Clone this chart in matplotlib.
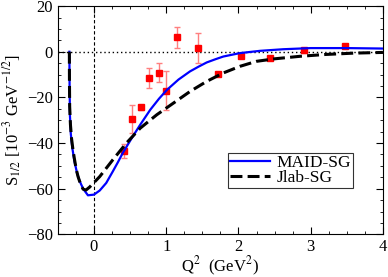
import matplotlib
matplotlib.use("Agg")
import matplotlib.pyplot as plt
from matplotlib.ticker import MultipleLocator

plt.rcParams['font.family'] = ['Liberation Serif', 'DejaVu Serif']
plt.rcParams['mathtext.fontset'] = 'stix'

# MAID-SG curve
maid_q2 = [-0.34, -0.337, -0.332, -0.32, -0.30, -0.27, -0.235, -0.20, -0.15, -0.083,
           0.0, 0.08, 0.17, 0.26, 0.33, 0.40, 0.52, 0.64, 0.78, 0.90, 1.01, 1.17,
           1.33, 1.45, 1.56, 1.68, 1.79, 2.02, 2.30, 2.62, 3.0, 3.5, 4.0]
maid_s = [0, -15, -28, -36, -42, -48, -53, -56.5, -60, -62.9,
          -62.6, -60.8, -57.5, -52.5, -48.5, -44.3, -38, -32, -25.4, -20.6, -16.7, -12.2,
          -8.6, -6.5, -4.7, -3.3, -2.1, -0.6, 0.4, 1.1, 1.6, 1.6, 1.4]

# Jlab-SG curve
jlab_q2 = [-0.34, -0.339, -0.336, -0.325, -0.31, -0.29, -0.27, -0.245, -0.22, -0.185,
           -0.15, -0.11, -0.06, 0.08, 0.26, 0.45, 0.64, 0.87, 1.10, 1.33, 1.56, 1.79,
           2.02, 2.25, 2.5, 2.85, 3.2, 3.6, 4.0]
jlab_s = [0, -12, -24, -32, -38, -43, -47, -51.5, -54.7, -58,
          -60.2, -60.6, -59.3, -54.7, -47.4, -40, -33.5, -27.6, -22.5, -17.4, -13, -9.3,
          -6.4, -4.2, -3.1, -2.0, -1.2, -0.6, -0.3]

# data points
data_q2 = [0.41, 0.525, 0.654, 0.756, 0.904, 1.0, 1.148, 1.447, 1.72, 2.04, 2.44, 2.91, 3.48]
data_s = [-43.4, -29.5, -24.4, -11.5, -9.1, -17.0, 6.4, 1.6, -9.8, -1.8, -2.8, 0.6, 2.6]
data_err = [3.0, 6.1, 1.0, 4.4, 4.0, 8.4, 4.6, 6.6, 1.0, 1.0, 1.0, 1.0, 1.0]

fig = plt.figure(figsize=(3.88, 2.77), dpi=100)
ax = fig.add_axes([0.149, 0.154, 0.838, 0.824])

ax.axhline(0, color='black', ls=(0, (1, 2)), lw=1.0)
ax.axvline(0, color='black', ls=(0, (3, 2)), lw=0.8)

ax.errorbar(data_q2, data_s, yerr=data_err, fmt='none', ecolor='#ff7f7f',
            elinewidth=1.0, capsize=2.5, capthick=1.0, zorder=3)
ax.plot(data_q2, data_s, 's', color='red', ms=4.5, zorder=4)

ax.plot(maid_q2, maid_s, '-', color='#0000ff', lw=1.6, label='MAID-SG', zorder=5)
ax.plot(jlab_q2, jlab_s, color='black', lw=2.2, dashes=(3.9, 1.7), label='Jlab-SG', zorder=6)

ax.set_xlim(-0.5, 4)
ax.set_ylim(-80, 20)
ax.xaxis.set_major_locator(MultipleLocator(1))
ax.xaxis.set_minor_locator(MultipleLocator(0.25))
ax.yaxis.set_major_locator(MultipleLocator(20))
ax.yaxis.set_minor_locator(MultipleLocator(5))
ax.tick_params(which='both', direction='in', top=True, right=True, labelsize=12)
ax.tick_params(which='major', length=5)
ax.tick_params(which='minor', length=2.5)

ax.set_xlabel(r'Q$^2$  (GeV$^2$)', fontsize=12, labelpad=0)
ax.set_ylabel(r'S$_{1/2}$ [10$^{-3}$ GeV$^{-1/2}$]', fontsize=12, labelpad=2)

leg = ax.legend(loc='upper left', bbox_to_anchor=(0.523, 0.356), fontsize=12.5,
                frameon=True, fancybox=False, edgecolor='black', handlelength=2.3,
                borderpad=0.1, labelspacing=-0.05, handletextpad=0.4, borderaxespad=0)
leg.get_frame().set_linewidth(0.8)

fig.savefig('out.png', dpi=100)
